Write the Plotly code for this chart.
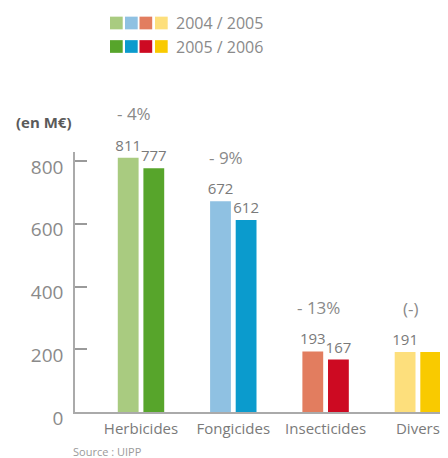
import plotly.graph_objects as go

# ---------------- data ----------------
categories = ["Herbicides", "Fongicides", "Insecticides", "Divers"]
values_2005 = [811, 672, 193, 191]          # 2004 / 2005
values_2006 = [777, 612, 167, 191]          # 2005 / 2006
labels_2005 = ["811", "672", "193", "191"]
labels_2006 = ["777", "612", "167", ""]
changes = ["- 4%", "- 9%", "- 13%", "(-)"]
series_names = ["2004 / 2005", "2005 / 2006"]
y_ticks = [0, 200, 400, 600, 800]

colors_2005 = ["#a9cb80", "#8fc1e2", "#e27d5f", "#fddf7c"]
colors_2006 = ["#57a52b", "#0b9bcd", "#cd0a22", "#f9ca00"]

# ---------------- layout geometry ----------------
# the page body has an 8 px margin, so the figure is drawn 8 px smaller
OFF = 8
W, H = 448 - OFF, 458 - OFF
ML, MR, MT, MB = 75 - OFF, 0, 152 - OFF, 46
PW, PH = W - ML - MR, H - MT - MB
FONT = "Open Sans"
GREY = "#8a8a8a"


def px_x(px):
    """page pixel x -> paper coordinate"""
    return (px - OFF - ML) / PW


def px_y(py):
    """page pixel y -> paper coordinate"""
    return (H - MB - (py - OFF)) / PH


fig = go.Figure()
fig.add_trace(go.Bar(
    x=categories, y=values_2005, name=series_names[0],
    marker=dict(color=colors_2005, line=dict(width=0)),
    text=labels_2005, textposition="outside", constraintext="none",
    textfont=dict(family=FONT, size=15, color="#7a7a7a"),
    cliponaxis=False, showlegend=False,
))
fig.add_trace(go.Bar(
    x=categories, y=values_2006, name=series_names[1],
    marker=dict(color=colors_2006, line=dict(width=0)),
    text=labels_2006, textposition="outside", constraintext="none",
    textfont=dict(family=FONT, size=15, color="#7a7a7a"),
    cliponaxis=False, showlegend=False,
))

annotations = []
# percentage changes above each group
for cat, a, b, ch in zip(categories, values_2005, values_2006, changes):
    annotations.append(dict(
        x=cat, y=max(a, b), xref="x", yref="y", text=ch, showarrow=False,
        xshift=-7, yshift=44, yanchor="middle",
        font=dict(family=FONT, size=17, color=GREY),
    ))

# unit label
annotations.append(dict(
    x=px_x(44), y=px_y(122), xref="paper", yref="paper", text="<b>(en M€)</b>",
    showarrow=False, xanchor="center", yanchor="middle",
    font=dict(family=FONT, size=15, color="#5a5a5a"),
))
# source
annotations.append(dict(
    x=px_x(71), y=px_y(451), xref="paper", yref="paper", text="Source : UIPP",
    showarrow=False, xanchor="left", yanchor="middle",
    font=dict(family=FONT, size=11, color="#9a9a9a"),
))

# custom legend: 4 colour squares + text per row
shapes = []
row_centers = [23, 46.5]
sq = 12.7
sq_x0 = [110, 125, 139.5, 155]
for row_cols, yc, name in zip([colors_2005, colors_2006], row_centers, series_names):
    for col, x0 in zip(row_cols, sq_x0):
        shapes.append(dict(
            type="rect", xref="paper", yref="paper",
            x0=px_x(x0), x1=px_x(x0 + sq), y0=px_y(yc + sq / 2), y1=px_y(yc - sq / 2),
            fillcolor=col, line=dict(width=0),
        ))
    annotations.append(dict(
        x=px_x(174), y=px_y(yc), xref="paper", yref="paper", text=name,
        showarrow=False, xanchor="left", yanchor="middle",
        font=dict(family=FONT, size=16, color=GREY),
    ))

fig.update_layout(
    width=W, height=H,
    margin=dict(l=ML, r=MR, t=MT, b=MB, pad=0),
    paper_bgcolor="white", plot_bgcolor="white",
    barmode="group", bargap=0.445, bargroupgap=0.1875,
    annotations=annotations, shapes=shapes,
    font=dict(family=FONT, color=GREY),
    xaxis=dict(
        type="category", range=[-0.715, 3.326],
        showline=True, linecolor="#aaaaaa", linewidth=1.5,
        ticks="", showgrid=False, zeroline=False,
        tickfont=dict(family=FONT, size=15, color="#7a7a7a"),
        ticklabelstandoff=2,
        fixedrange=True,
    ),
    yaxis=dict(
        range=[0, 829], tickvals=y_ticks, ticktext=[str(v) for v in y_ticks],
        showline=True, linecolor="#aaaaaa", linewidth=1.5,
        ticks="inside", ticklen=12, tickwidth=1.5, tickcolor="#9a9a9a",
        showgrid=False, zeroline=False,
        tickfont=dict(family=FONT, size=19, color=GREY),
        ticklabelstandoff=6, ticklabelshift=6,
        fixedrange=True,
    ),
)

fig.write_html("out.html")
